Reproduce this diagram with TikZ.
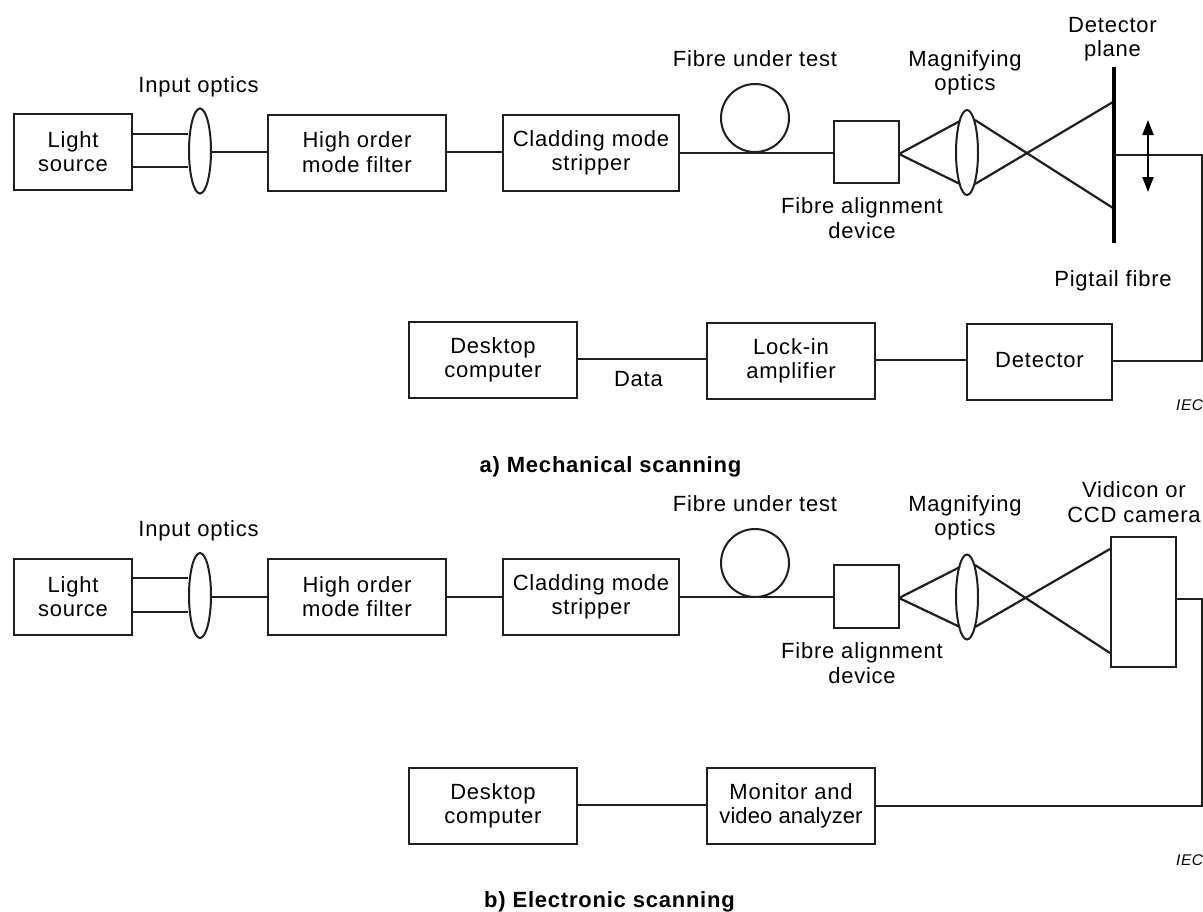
\documentclass[tikz,border=0pt]{standalone}
\usepackage{fontspec}
\setmainfont[LetterSpace=3.5]{Liberation Sans}
\newfontfamily\tightfont[LetterSpace=0.5]{Liberation Sans}
\usetikzlibrary{shapes.geometric,arrows.meta}
\tikzset{
  ln/.style={draw=black!88,line width=2pt},
  blk/.style={ln,rectangle,inner sep=0pt,align=center,font=\fontsize{22}{24.5}\selectfont},
  lens/.style={ln,ellipse,inner sep=0pt,minimum width=22pt,fill=white},
  lbl/.style={inner sep=0pt,align=center,font=\fontsize{22}{24.5}\selectfont},
  captext/.style={inner sep=0pt,font=\fontsize{22}{24}\selectfont\bfseries},
  iec/.style={inner sep=0pt,anchor=west,font=\fontsize{15.5}{17}\selectfont\itshape},
  ray/.style={draw=black!88,line width=2.2pt},
  plane/.style={draw=black,line width=4.5pt},
  scan/.style={draw=black,line width=1.8pt,{Triangle[length=15pt,width=11pt]}-{Triangle[length=15pt,width=11pt]}}
}
\begin{document}
\begin{tikzpicture}[x=1pt,y=-1pt]
\useasboundingbox (0,0) rectangle (1203,911);
\fill[white] (0,0) rectangle (1203,911);
% ---- a) ----
\node[blk,minimum width=118pt,minimum height=76pt] (lsa) at (73,152) {\raisebox{1pt}{Light}\\\raisebox{1pt}{source}};
\node[lens,minimum height=85pt] (loa) at (200,151) {};
\node[blk,minimum width=178pt,minimum height=76pt] (hoa) at (357,153) {\raisebox{2pt}{High order}\\\raisebox{2pt}{mode filter}};
\node[blk,minimum width=176pt,minimum height=76pt] (csa) at (591,153) {\raisebox{1pt}{Cladding mode}\\\raisebox{1pt}{stripper}};
\node[ln,circle,minimum size=68pt,inner sep=0pt] (fua) at (755,118) {};
\node[blk,minimum width=65pt,minimum height=62pt] (faa) at (866.5,152) {};
\node[lens,minimum height=85pt] (moa) at (967,152.5) {};
\coordinate (dpt) at (1114,67);
\coordinate (dpb) at (1114,243);
\coordinate (dpm) at (1114,155);
\coordinate (cra) at (1202,155);
\coordinate (crb) at (1202,361);
\coordinate (sat) at (1148,120);
\coordinate (sab) at (1148,192);
\node[blk,minimum width=145pt,minimum height=76pt] (dea) at (1039.5,362) {\raisebox{5pt}{Detector}};
\node[blk,minimum width=168pt,minimum height=76pt] (lia) at (791,361) {\raisebox{2.5pt}{Lock-in}\\\raisebox{2.5pt}{amplifier}};
\node[blk,minimum width=168pt,minimum height=76pt] (dca) at (493,360) {Desktop\\computer};
\draw[ln] (lsa.east |- 0,134) -- (loa.west |- 0,134);
\draw[ln] (lsa.east |- 0,167) -- (loa.west |- 0,167);
\draw[ln] (loa.east |- 0,152) -- (hoa.west |- 0,152);
\draw[ln] (hoa.east |- 0,152) -- (csa.west |- 0,152);
\draw[ln] (csa.east |- 0,153) -- (faa.west |- 0,153);
\coordinate (faar) at (899,154);
\draw[ray] (faar) -- (960,121);
\draw[ray] (faar) -- (960,184);
\draw[ray] (975,120) -- (1113,208);
\draw[ray] (975,184) -- (1113,102);
\draw[plane] (dpt) -- (dpb);
\draw[ln] (dpm) -- (cra) -- (crb) -- (dea.east |- crb);
\draw[scan] (sat) -- (sab);
\draw[ln] (dea.west |- 0,360) -- (lia.east |- 0,360);
\draw[ln] (lia.west |- 0,359) -- (dca.east |- 0,359);
\node[lbl] (tioa) at (198.5,87) {Input optics};
\node[lbl] (tfua) at (755,59) {Fibre under test};
\node[lbl] at (965,73) {Magnifying\\optics};
\node[lbl] at (1112.5,39) {Detector\\plane};
\node[lbl] at (862,218) {Fibre alignment\\device};
\node[lbl] at (1113,281) {Pigtail fibre};
\node[lbl] at (638.5,379) {Data};
\node[iec] at (1176,405) {IEC};
\node[captext] at (610.5,467) {a) Mechanical scanning};
% ---- b) ----
\node[blk,minimum width=118pt,minimum height=76pt] (lsb) at (73,597) {\raisebox{1pt}{Light}\\\raisebox{1pt}{source}};
\node[lens,minimum height=85pt] (lob) at (200,595.5) {};
\node[blk,minimum width=178pt,minimum height=76pt] (hob) at (357,597) {\raisebox{1pt}{High order}\\\raisebox{1pt}{mode filter}};
\node[blk,minimum width=176pt,minimum height=76pt] (csb) at (591,597) {\raisebox{1pt}{Cladding mode}\\\raisebox{1pt}{stripper}};
\node[ln,circle,minimum size=68pt,inner sep=0pt] (fub) at (755,563) {};
\node[blk,minimum width=65pt,minimum height=63pt] (fab) at (866.5,596.5) {};
\node[lens,minimum height=85pt] (mob) at (967,597) {};
\node[blk,minimum width=65pt,minimum height=130pt] (cam) at (1143.5,602) {};
\coordinate (crc) at (1202,599);
\coordinate (crd) at (1202,806);
\node[blk,minimum width=168pt,minimum height=76pt] (mon) at (791,806) {\raisebox{3pt}{Monitor and}\\\raisebox{3pt}{\tightfont video analyzer}};
\node[blk,minimum width=168pt,minimum height=76pt] (dcb) at (493,806) {\raisebox{1pt}{Desktop}\\\raisebox{1pt}{computer}};
\draw[ln] (lsb.east |- 0,578) -- (lob.west |- 0,578);
\draw[ln] (lsb.east |- 0,612) -- (lob.west |- 0,612);
\draw[ln] (lob.east |- 0,597) -- (hob.west |- 0,597);
\draw[ln] (hob.east |- 0,597) -- (csb.west |- 0,597);
\draw[ln] (csb.east |- 0,597) -- (fab.west |- 0,597);
\coordinate (fabr) at (899,598);
\draw[ray] (fabr) -- (960,567);
\draw[ray] (fabr) -- (960,627);
\draw[ray] (975,565) -- (cam.west |- 0,653);
\draw[ray] (975,627) -- (cam.west |- 0,549);
\draw[ln] (cam.east |- crc) -- (crc) -- (crd) -- (mon.east |- crd);
\draw[ln] (mon.west |- 0,805) -- (dcb.east |- 0,805);
\node[lbl] at (198.5,531) {Input optics};
\node[lbl] at (755,504) {Fibre under test};
\node[lbl] at (965,518) {Magnifying\\optics};
\node[lbl] at (1134,502) {Vidicon or\\CCD camera};
\node[lbl] at (862,663) {Fibre alignment\\device};
\node[iec] at (1176,860) {IEC};
\node[captext] at (609.5,902) {b) Electronic scanning};
\end{tikzpicture}
\end{document}
